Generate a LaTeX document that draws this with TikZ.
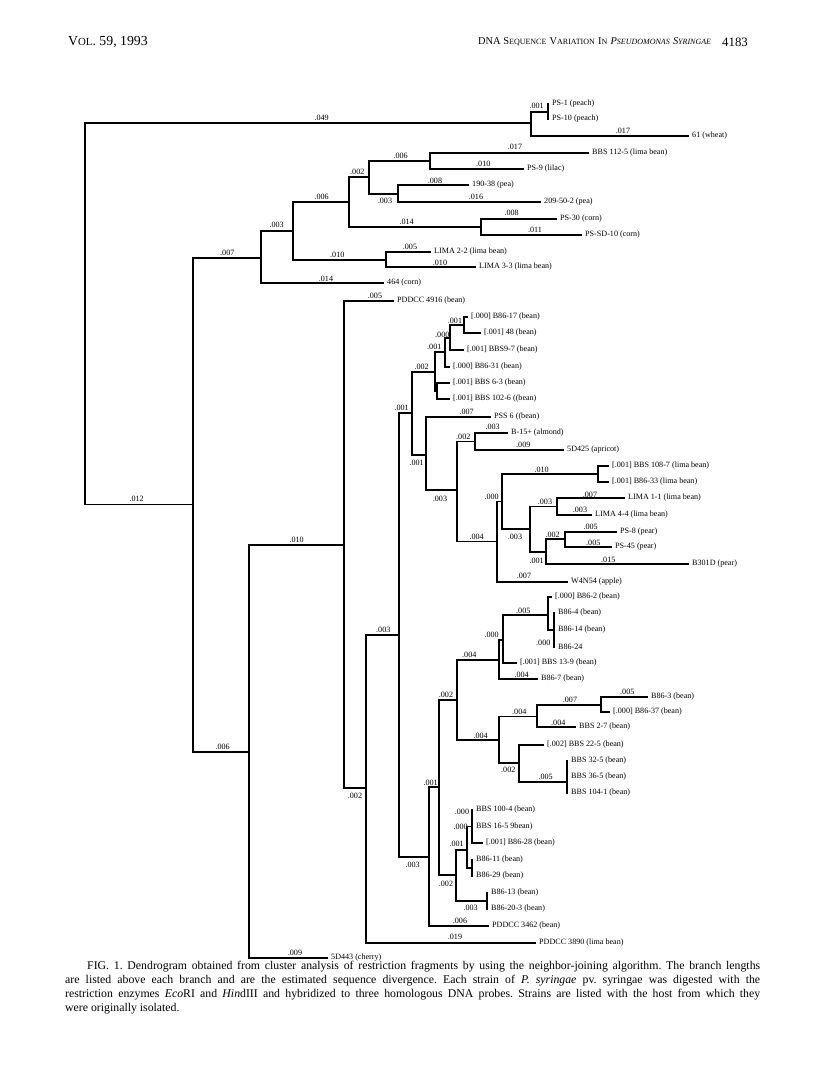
\documentclass[tikz,border=0pt]{standalone}
\usepackage{fontspec}
\setmainfont{Liberation Serif}
\newcommand\lf[4]{\node[leaf] (#1) at (#2,#3) {#4};}
\newcommand\bl[4]{\node[blab] (#1) at (#2,#3) {#4};}
\newcommand\hsc[2]{{\fontsize{10.4}{12}\selectfont #1}{\fontsize{8.0}{9}\selectfont #2}}
\begin{document}
\begin{tikzpicture}[x=1pt,y=-1pt,
  br/.style={line width=1.15pt, line cap=rect},
  leaf/.style={anchor=west, inner xsep=4pt, inner ysep=0pt, font=\fontsize{8.1}{9}\selectfont},
  blab/.style={inner sep=0pt, font=\fontsize{8.1}{9}\selectfont},
  hdr/.style={anchor=west, inner sep=0pt, font=\fontsize{12.8}{14}\selectfont}]
\useasboundingbox (0,0) rectangle (816,1082);
\fill[white] (0,0) rectangle (816,1082);

% header
\node[hdr, font=\fontsize{13.8}{15}\selectfont] (hL) at (68,42) {V{\fontsize{10.8}{12}\selectfont OL}. 59, 1993};
\node[hdr] (hM) at (478,42) {\hsc{DNA S}{EQUENCE} \hsc{V}{ARIATION} \hsc{I}{N} \textit{\hsc{P}{SEUDOMONAS} \hsc{S}{YRINGAE}}};
\node[hdr] (hR) at (722,42) {4183};

% leaves
\lf{Lps1}{548}{104}{PS-1 (peach)}
\lf{Lps10}{548}{119}{PS-10 (peach)}
\lf{L61}{688}{136}{61 (wheat)}
\lf{Lbbs1125}{588}{153}{BBS 112-5 (lima bean)}
\lf{Lps9}{523}{169}{PS-9 (lilac)}
\lf{L19038}{468}{185}{190-38 (pea)}
\lf{L209}{540}{202}{209-50-2 (pea)}
\lf{Lps30}{556}{219}{PS-30 (corn)}
\lf{Lpssd}{581}{235}{PS-SD-10 (corn)}
\lf{Llima22}{430}{252}{LIMA 2-2 (lima bean)}
\lf{Llima33}{475}{267}{LIMA 3-3 (lima bean)}
\lf{L464}{383}{283}{464 (corn)}
\lf{Lpd4916}{393}{301}{PDDCC 4916 (bean)}
\lf{Lb8617}{467}{317}{[.000] B86-17 (bean)}
\lf{L48}{480}{333}{[.001] 48 (bean)}
\lf{Lbbs97}{463}{350}{[.001] BBS9-7 (bean)}
\lf{Lb8631}{449}{367}{[.000] B86-31 (bean)}
\lf{Lbbs63}{449}{383}{[.001] BBS 6-3 (bean)}
\lf{Lbbs1026}{449}{399}{[.001] BBS 102-6 ((bean)}
\lf{Lpss6}{490}{417}{PSS 6 ((bean)}
\lf{Lb15}{507}{433}{B-15+ (almond)}
\lf{L5d425}{563}{450}{5D425 (apricot)}
\lf{Lbbs1087}{608}{466}{[.001] BBS 108-7 (lima bean)}
\lf{Lb8633}{608}{482}{[.001] B86-33 (lima bean)}
\lf{Llima11}{624}{498}{LIMA 1-1 (lima bean)}
\lf{Llima44}{591}{515}{LIMA 4-4 (lima bean)}
\lf{Lps8}{616}{532}{PS-8 (pear)}
\lf{Lps45}{611}{547}{PS-45 (pear)}
\lf{Lb301d}{688}{564}{B301D (pear)}
\lf{Lw4n54}{567}{582}{W4N54 (apple)}
\lf{Lb862}{551}{597}{[.000] B86-2 (bean)}
\lf{Lb864}{554}{613}{B86-4 (bean)}
\lf{Lb8614}{554}{630}{B86-14 (bean)}
\lf{Lb8624}{554}{647}{B86-24}
\lf{Lbbs139}{516}{663}{[.001] BBS 13-9 (bean)}
\lf{Lb867}{537}{679}{B86-7 (bean)}
\lf{Lb863}{647}{697}{B86-3 (bean)}
\lf{Lb8637}{609}{712}{[.000] B86-37 (bean)}
\lf{Lbbs27}{575}{727}{BBS 2-7 (bean)}
\lf{Lbbs225}{543}{745}{[.002] BBS 22-5 (bean)}
\lf{Lbbs325}{567}{761}{BBS 32-5 (bean)}
\lf{Lbbs365}{567}{777}{BBS 36-5 (bean)}
\lf{Lbbs1041}{567}{793}{BBS 104-1 (bean)}
\lf{Lbbs1004}{472}{810}{BBS 100-4 (bean)}
\lf{Lbbs165}{472}{827}{BBS 16-5 9bean)}
\lf{Lb8628}{482}{843}{[.001] B86-28 (bean)}
\lf{Lb8611}{472}{860}{B86-11 (bean)}
\lf{Lb8629}{472}{876}{B86-29 (bean)}
\lf{Lb8613}{487}{893}{B86-13 (bean)}
\lf{Lb86203}{487}{909}{B86-20-3 (bean)}
\lf{Lpd3462}{488}{926}{PDDCC 3462 (bean)}
\lf{Lpd3890}{535}{943}{PDDCC 3890 (lima bean)}
\lf{L5d443}{327}{958}{5D443 (cherry)}

% internal nodes
\coordinate (r0) at (85,313.5);
\coordinate (ps61) at (531,123);
\coordinate (ps) at (548,112);
\coordinate (n193) at (193,504.5);
\coordinate (n261) at (261,258);
\coordinate (n293) at (293,231);
\coordinate (n349) at (349,202);
\coordinate (n369) at (369,177);
\coordinate (n430) at (430,161);
\coordinate (n398) at (398,194);
\coordinate (n481) at (481,227);
\coordinate (n386) at (386,260);
\coordinate (n249) at (249,752);
\coordinate (n344) at (344,545);
\coordinate (n366) at (366,788);
\coordinate (n399) at (399,635);
\coordinate (n412) at (412,413);
\coordinate (n435) at (435,372);
\coordinate (n445) at (445,352);
\coordinate (n450) at (450,338);
\coordinate (n464) at (464,325);
\coordinate (n437) at (437,391);
\coordinate (n426) at (426,455);
\coordinate (n457) at (457,490);
\coordinate (n475) at (475,441.7);
\coordinate (n497) at (497,541.7);
\coordinate (n502) at (502,501.7);
\coordinate (n598) at (598,474);
\coordinate (n530) at (530,529);
\coordinate (n557) at (557,506.7);
\coordinate (n546) at (546,552);
\coordinate (n565) at (565,539);
\coordinate (n429) at (429,857);
\coordinate (n439) at (439,787);
\coordinate (n457b) at (457,700);
\coordinate (n499a) at (499,660);
\coordinate (n503) at (503,640);
\coordinate (n548) at (548,615);
\coordinate (n554) at (554,630);
\coordinate (n499b) at (499,740);
\coordinate (n537) at (537,716.7);
\coordinate (n601) at (601,705);
\coordinate (n519) at (519,763);
\coordinate (n567) at (567,782);
\coordinate (n456) at (456,875);
\coordinate (n467) at (467,850);
\coordinate (n472a) at (472,826.5);
\coordinate (n472b) at (472,868);
\coordinate (n487) at (487,901);

% branches
\foreach \a/\b in {r0/ps61, r0/n193,
  ps61/ps, ps61/L61.west, ps/Lps1.west, ps/Lps10.west,
  n193/n261, n193/n249, n261/n293, n261/L464.west,
  n293/n349, n293/n386, n349/n369, n349/n481,
  n369/n430, n369/n398,
  n430/Lbbs1125.west, n430/Lps9.west,
  n398/L19038.west, n398/L209.west,
  n481/Lps30.west, n481/Lpssd.west,
  n386/Llima22.west, n386/Llima33.west,
  n249/n344, n249/L5d443.west,
  n344/Lpd4916.west, n344/n366,
  n366/n399, n366/Lpd3890.west,
  n399/n412, n399/n429,
  n412/n435, n412/n426,
  n435/n445, n435/n437,
  n445/n450, n445/Lb8631.west,
  n450/n464, n450/Lbbs97.west,
  n464/Lb8617.west, n464/L48.west,
  n437/Lbbs63.west, n437/Lbbs1026.west,
  n426/Lpss6.west, n426/n457,
  n457/n475, n457/n497,
  n475/Lb15.west, n475/L5d425.west,
  n497/n502, n497/Lw4n54.west,
  n502/n598, n502/n530,
  n598/Lbbs1087.west, n598/Lb8633.west,
  n530/n557, n530/n546,
  n557/Llima11.west, n557/Llima44.west,
  n546/n565, n546/Lb301d.west,
  n565/Lps8.west, n565/Lps45.west,
  n429/n439, n429/Lpd3462.west,
  n439/n457b, n439/n456,
  n457b/n499a, n457b/n499b,
  n499a/n503, n499a/Lb867.west,
  n503/n548, n503/Lbbs139.west,
  n548/Lb862.west, n548/n554,
  n554/Lb864.west, n554/Lb8614.west, n554/Lb8624.west,
  n499b/n537, n499b/n519,
  n537/n601, n537/Lbbs27.west,
  n601/Lb863.west, n601/Lb8637.west,
  n519/Lbbs225.west, n519/n567,
  n567/Lbbs325.west, n567/Lbbs365.west, n567/Lbbs1041.west,
  n456/n467, n456/n487,
  n467/n472a, n467/n472b,
  n472a/Lbbs1004.west, n472a/Lbbs165.west, n472a/Lb8628.west,
  n472b/Lb8611.west, n472b/Lb8629.west,
  n487/Lb8613.west, n487/Lb86203.west}
  \draw[br] (\a) |- (\b);

% branch-length labels
\bl{b1}{321.7}{118}{.049}
\bl{b2}{536.7}{106}{.001}
\bl{b3}{623}{130.7}{.017}
\bl{b4}{515}{147.3}{.017}
\bl{b5}{483.3}{164}{.010}
\bl{b6}{400.7}{156}{.006}
\bl{b7}{357.3}{171.7}{.002}
\bl{b8}{435}{180.7}{.008}
\bl{b9}{476}{197.3}{.016}
\bl{b10}{385}{201}{.003}
\bl{b11}{321.7}{196.7}{.006}
\bl{b12}{406.7}{221.7}{.014}
\bl{b13}{511.7}{213.3}{.008}
\bl{b14}{535}{230}{.011}
\bl{b15}{276.7}{225}{.003}
\bl{b16}{337.3}{255}{.010}
\bl{b17}{410}{247.3}{.005}
\bl{b18}{440}{263.3}{.010}
\bl{b19}{326}{279.3}{.014}
\bl{b20}{227.3}{253.3}{.007}
\bl{b21}{136.7}{499.3}{.012}
\bl{b22}{222.7}{746.7}{.006}
\bl{b23}{296.7}{540}{.010}
\bl{b24}{375}{296}{.005}
\bl{b25}{401.7}{407.7}{.001}
\bl{b26}{383.3}{630}{.003}
\bl{b27}{355}{796}{.002}
\bl{b28}{421.7}{367.3}{.002}
\bl{b29}{434.3}{347.3}{.001}
\bl{b30}{442.3}{335}{.000}
\bl{b31}{455}{321}{.001}
\bl{b32}{416.7}{463.3}{.001}
\bl{b33}{466.7}{411.7}{.007}
\bl{b34}{440}{499.3}{.003}
\bl{b35}{463.3}{436.7}{.002}
\bl{b36}{492.7}{427.3}{.003}
\bl{b37}{523.3}{445}{.009}
\bl{b38}{476.7}{536.7}{.004}
\bl{b39}{491.7}{497.3}{.000}
\bl{b40}{541.7}{470}{.010}
\bl{b41}{515}{536.7}{.003}
\bl{b42}{545}{501.7}{.003}
\bl{b43}{590}{495}{.007}
\bl{b44}{580}{510}{.003}
\bl{b45}{536.7}{560.7}{.001}
\bl{b46}{552.7}{535}{.002}
\bl{b47}{590.7}{526.7}{.005}
\bl{b48}{593.3}{543.3}{.005}
\bl{b49}{608.3}{560}{.015}
\bl{b50}{524}{576}{.007}
\bl{b51}{469.3}{655}{.004}
\bl{b52}{491.7}{635}{.000}
\bl{b53}{523.3}{610.7}{.005}
\bl{b54}{543.3}{642.7}{.000}
\bl{b55}{521.7}{675}{.004}
\bl{b56}{446}{695}{.002}
\bl{b57}{480.7}{735.7}{.004}
\bl{b58}{519.3}{711.7}{.004}
\bl{b59}{570}{700}{.007}
\bl{b60}{627.3}{691.7}{.005}
\bl{b61}{558.3}{723.3}{.004}
\bl{b62}{508.3}{770}{.002}
\bl{b63}{545.7}{777}{.005}
\bl{b64}{430.7}{782.7}{.001}
\bl{b65}{412.7}{865}{.003}
\bl{b66}{446}{884}{.002}
\bl{b67}{456.7}{844}{.001}
\bl{b68}{462}{812.3}{.000}
\bl{b69}{460.7}{827.3}{.000}
\bl{b70}{470.7}{907.7}{.003}
\bl{b71}{460}{920.7}{.006}
\bl{b72}{455}{936.7}{.019}
\bl{b73}{295}{952.7}{.009}

% caption
\node[anchor=north west, inner sep=0pt, text width=695pt, align=justify,
      font=\fontsize{11.8}{14.1}\selectfont] (cap) at (65,961)
{\frenchspacing\hspace*{22pt}FIG. 1. Dendrogram obtained from cluster analysis of restriction fragments by using the neighbor-joining algorithm. The branch lengths\linebreak
are listed above each branch and are the estimated sequence divergence. Each strain of \textit{P. syringae} pv. syringae was digested with the\linebreak
restriction enzymes \textit{Eco}RI and \textit{Hin}dIII and hybridized to three homologous DNA probes. Strains are listed with the host from which they\linebreak
were originally isolated.};
\end{tikzpicture}
\end{document}
